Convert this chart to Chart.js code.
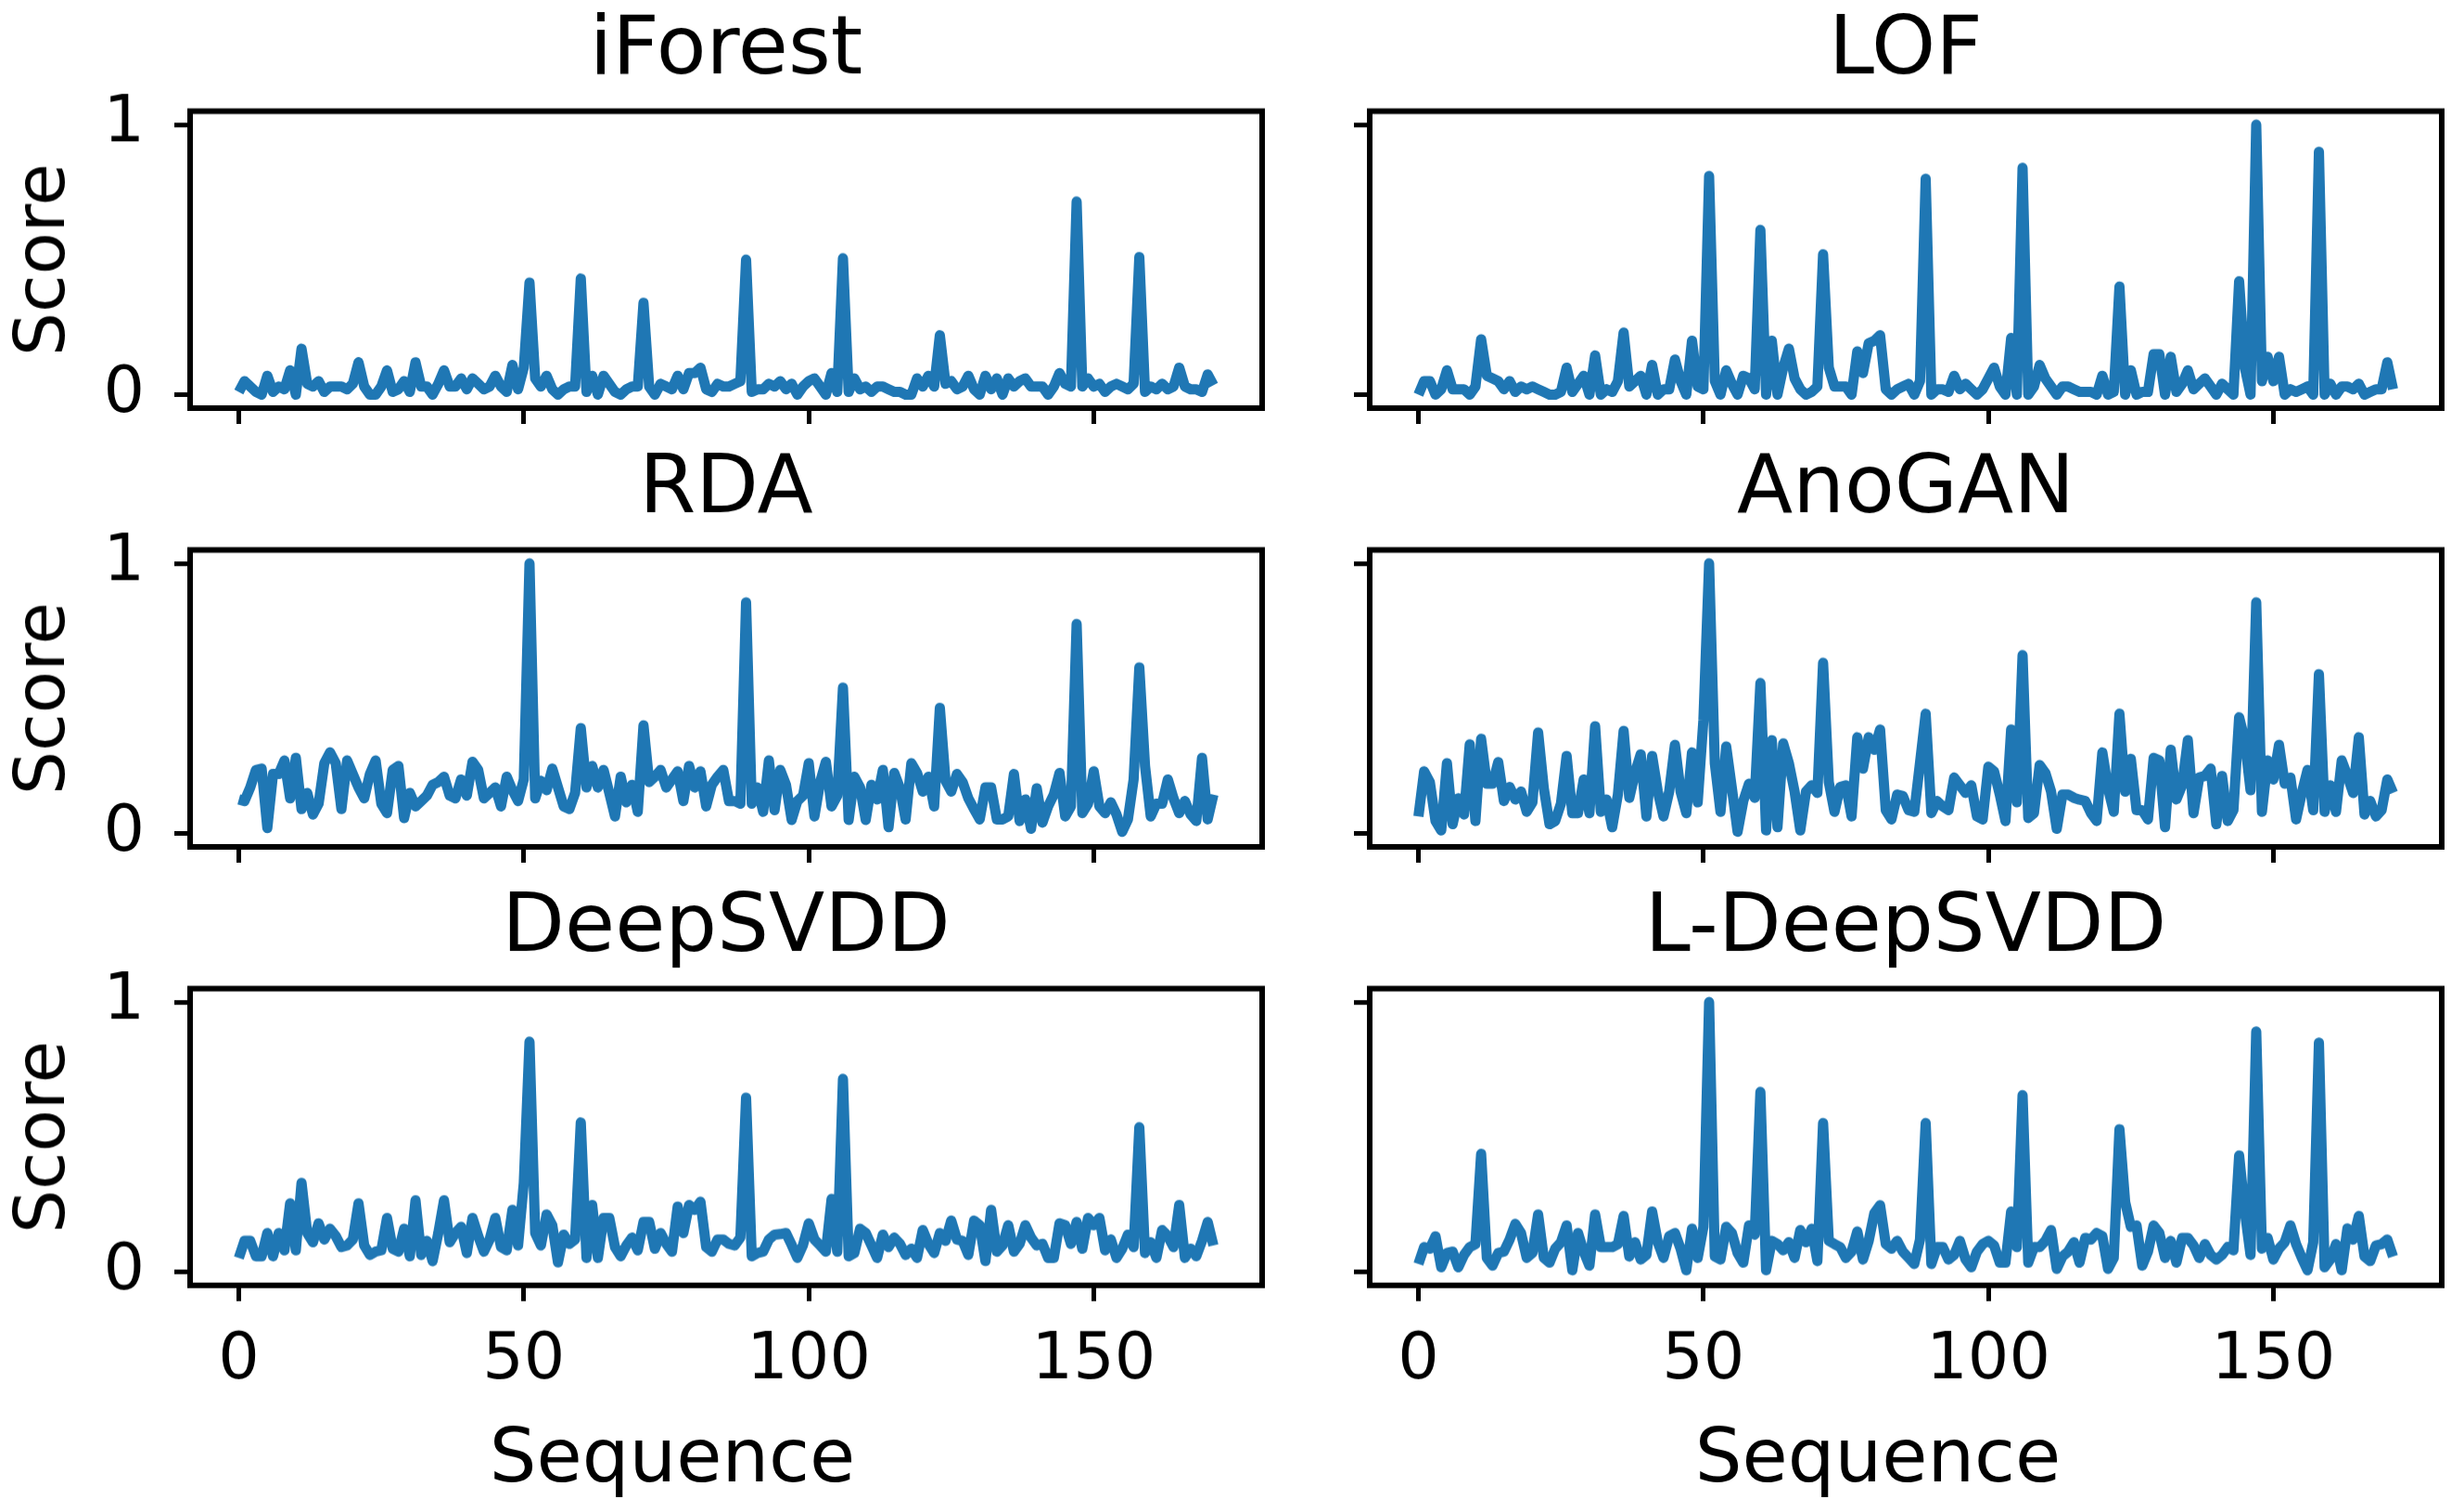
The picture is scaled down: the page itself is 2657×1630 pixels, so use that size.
<!DOCTYPE html>
<html>
<head>
<meta charset="utf-8">
<script src="https://cdn.jsdelivr.net/npm/chart.js@4.4.1/dist/chart.umd.min.js"></script>
<style>
  body { margin: 0; background: #fff; }
  #page { position: relative; width: 2657px; height: 1630px; background: #fff; overflow: hidden; }
  #page canvas { position: absolute; }
</style>
</head>
<body>
<div id="page"></div>
<script>
// anomaly scores per sequence index (0..171)
const methods = ['iForest', 'LOF', 'RDA', 'AnoGAN', 'DeepSVDD', 'L-DeepSVDD']

const iforest = [
  0.01,0.05,0.03,0.01,0.0,0.07,0.01,0.03,0.02,0.09,
  0.0,0.17,0.04,0.03,0.05,0.01,0.03,0.03,0.03,0.02,
  0.04,0.12,0.03,0.0,0.0,0.03,0.09,0.01,0.02,0.05,
  0.01,0.12,0.03,0.03,0.0,0.04,0.09,0.03,0.03,0.06,
  0.02,0.06,0.04,0.02,0.03,0.07,0.03,0.01,0.11,0.02,
  0.1,0.415,0.06,0.03,0.07,0.02,0.0,0.02,0.03,0.03,
  0.43,0.01,0.07,0.0,0.07,0.04,0.01,0.0,0.02,0.03,
  0.03,0.34,0.03,0.0,0.04,0.03,0.02,0.07,0.02,0.08,
  0.08,0.1,0.02,0.01,0.04,0.03,0.03,0.04,0.05,0.5,
  0.01,0.02,0.02,0.04,0.03,0.05,0.02,0.04,0.0,0.03,
  0.05,0.06,0.03,0.0,0.08,0.01,0.505,0.01,0.06,0.02,
  0.03,0.01,0.03,0.03,0.02,0.01,0.01,0.0,0.0,0.06,
  0.03,0.07,0.03,0.22,0.04,0.05,0.02,0.03,0.07,0.02,
  0.0,0.07,0.02,0.06,0.0,0.06,0.03,0.05,0.06,0.03,
  0.03,0.03,0.0,0.03,0.08,0.04,0.03,0.715,0.03,0.06,
  0.03,0.04,0.01,0.03,0.04,0.03,0.02,0.04,0.51,0.01,
  0.03,0.02,0.04,0.02,0.03,0.1,0.03,0.02,0.02,0.01,
  0.075,0.035
]

const lof = [
  0.0,0.05,0.05,0.0,0.02,0.09,0.02,0.02,0.02,0.0,
  0.03,0.205,0.07,0.06,0.05,0.02,0.05,0.01,0.03,0.02,
  0.03,0.02,0.01,0.0,0.0,0.01,0.1,0.01,0.04,0.07,
  0.0,0.145,0.0,0.02,0.01,0.05,0.23,0.03,0.05,0.07,
  0.0,0.11,0.0,0.02,0.02,0.13,0.05,0.0,0.2,0.03,
  0.02,0.81,0.05,0.0,0.09,0.04,0.0,0.07,0.06,0.02,
  0.61,0.0,0.2,0.0,0.1,0.17,0.06,0.02,0.0,0.01,
  0.03,0.52,0.1,0.03,0.03,0.03,0.0,0.16,0.08,0.19,
  0.2,0.22,0.02,0.0,0.02,0.03,0.04,0.0,0.05,0.8,
  0.0,0.02,0.02,0.01,0.07,0.02,0.04,0.02,0.0,0.02,
  0.06,0.1,0.03,0.0,0.21,0.0,0.84,0.0,0.03,0.11,
  0.06,0.03,0.0,0.03,0.03,0.02,0.01,0.01,0.01,0.0,
  0.07,0.0,0.01,0.4,0.0,0.09,0.0,0.01,0.01,0.15,
  0.15,0.0,0.14,0.01,0.04,0.09,0.02,0.04,0.06,0.03,
  0.0,0.04,0.02,0.0,0.42,0.1,0.0,1.0,0.05,0.14,
  0.05,0.14,0.0,0.02,0.01,0.02,0.03,0.0,0.9,0.0,
  0.04,0.0,0.03,0.03,0.02,0.04,0.0,0.01,0.02,0.02,
  0.12,0.02
]

const rda = [
  0.126,0.12,0.17,0.235,0.24,0.02,0.22,0.22,0.27,0.13,
  0.28,0.09,0.15,0.07,0.11,0.26,0.30,0.26,0.09,0.27,
  0.22,0.17,0.13,0.22,0.27,0.11,0.075,0.235,0.25,0.057,
  0.15,0.1,0.12,0.14,0.18,0.19,0.21,0.14,0.13,0.2,
  0.14,0.265,0.235,0.13,0.15,0.17,0.1,0.21,0.16,0.12,
  0.2,1.0,0.13,0.195,0.16,0.24,0.17,0.1,0.09,0.15,
  0.39,0.17,0.25,0.17,0.235,0.15,0.063,0.21,0.115,0.18,
  0.08,0.40,0.19,0.21,0.235,0.17,0.2,0.23,0.12,0.25,
  0.17,0.23,0.1,0.18,0.21,0.235,0.12,0.12,0.11,0.856,
  0.11,0.17,0.08,0.27,0.086,0.235,0.18,0.05,0.12,0.14,
  0.26,0.063,0.19,0.265,0.1,0.14,0.54,0.05,0.21,0.17,
  0.05,0.18,0.126,0.235,0.023,0.224,0.167,0.052,0.26,0.224,
  0.155,0.21,0.1,0.465,0.195,0.155,0.22,0.19,0.13,0.09,
  0.052,0.17,0.17,0.052,0.052,0.063,0.22,0.046,0.126,0.017,
  0.167,0.04,0.1,0.144,0.224,0.063,0.1,0.776,0.075,0.11,
  0.23,0.1,0.075,0.115,0.07,0.006,0.052,0.2,0.615,0.25,
  0.063,0.11,0.11,0.2,0.13,0.075,0.12,0.07,0.046,0.28,
  0.052,0.144
]

const anogan = [
  0.063,0.23,0.19,0.046,0.011,0.26,0.034,0.13,0.07,0.33,
  0.046,0.35,0.184,0.184,0.264,0.12,0.172,0.126,0.155,0.08,
  0.115,0.374,0.167,0.034,0.046,0.11,0.287,0.075,0.075,0.2,
  0.075,0.397,0.08,0.126,0.023,0.144,0.38,0.132,0.224,0.293,
  0.063,0.287,0.155,0.063,0.155,0.328,0.155,0.075,0.3,0.115,
  0.42,1.0,0.26,0.08,0.322,0.167,0.006,0.12,0.184,0.132,
  0.557,0.011,0.345,0.023,0.333,0.26,0.155,0.011,0.155,0.178,
  0.15,0.632,0.19,0.08,0.172,0.178,0.063,0.356,0.24,0.356,
  0.31,0.385,0.086,0.052,0.144,0.138,0.086,0.08,0.26,0.443,
  0.075,0.12,0.1,0.086,0.207,0.178,0.15,0.178,0.063,0.052,
  0.247,0.23,0.144,0.046,0.385,0.115,0.66,0.057,0.075,0.253,
  0.224,0.155,0.017,0.144,0.144,0.132,0.125,0.12,0.075,0.046,
  0.3,0.167,0.08,0.443,0.155,0.276,0.086,0.086,0.052,0.28,
  0.27,0.023,0.31,0.126,0.178,0.345,0.075,0.207,0.213,0.24,
  0.034,0.213,0.046,0.086,0.43,0.345,0.16,0.856,0.08,0.27,
  0.2,0.328,0.184,0.207,0.052,0.15,0.235,0.086,0.59,0.08,
  0.178,0.08,0.27,0.213,0.15,0.356,0.07,0.12,0.063,0.086,
  0.2,0.15
]

const deepsvdd = [
  0.052,0.115,0.115,0.058,0.058,0.144,0.058,0.144,0.08,0.254,
  0.08,0.33,0.144,0.11,0.18,0.12,0.16,0.133,0.092,0.098,
  0.12,0.254,0.098,0.063,0.075,0.08,0.2,0.086,0.075,0.16,
  0.058,0.265,0.063,0.115,0.04,0.144,0.265,0.11,0.144,0.167,
  0.07,0.2,0.133,0.075,0.12,0.2,0.092,0.08,0.23,0.098,
  0.33,0.853,0.144,0.098,0.213,0.173,0.035,0.138,0.104,0.12,
  0.554,0.052,0.248,0.052,0.2,0.2,0.092,0.058,0.098,0.127,
  0.08,0.185,0.185,0.086,0.144,0.104,0.075,0.242,0.144,0.248,
  0.23,0.26,0.092,0.075,0.12,0.12,0.104,0.098,0.127,0.646,
  0.058,0.07,0.075,0.12,0.138,0.14,0.144,0.1,0.052,0.1,
  0.18,0.12,0.098,0.075,0.27,0.075,0.715,0.058,0.07,0.16,
  0.144,0.098,0.052,0.138,0.092,0.127,0.104,0.063,0.086,0.052,
  0.155,0.104,0.07,0.144,0.115,0.19,0.12,0.115,0.063,0.19,
  0.173,0.04,0.23,0.075,0.098,0.173,0.075,0.104,0.173,0.127,
  0.098,0.104,0.052,0.052,0.18,0.173,0.104,0.185,0.086,0.2,
  0.173,0.2,0.08,0.12,0.052,0.086,0.138,0.092,0.536,0.07,
  0.11,0.052,0.155,0.133,0.092,0.248,0.052,0.086,0.058,0.115,
  0.185,0.098
]

const ldeepsvdd = [
  0.029,0.092,0.086,0.132,0.017,0.07,0.075,0.017,0.063,0.092,
  0.103,0.437,0.052,0.023,0.07,0.075,0.12,0.178,0.144,0.052,
  0.07,0.213,0.052,0.034,0.086,0.11,0.172,0.006,0.144,0.075,
  0.023,0.213,0.092,0.092,0.092,0.103,0.207,0.057,0.11,0.046,
  0.063,0.224,0.11,0.052,0.132,0.144,0.086,0.006,0.16,0.052,
  0.167,1.0,0.057,0.046,0.167,0.144,0.07,0.034,0.172,0.138,
  0.667,0.006,0.115,0.103,0.08,0.11,0.052,0.155,0.11,0.16,
  0.04,0.552,0.115,0.103,0.092,0.052,0.075,0.15,0.046,0.115,
  0.218,0.247,0.103,0.086,0.115,0.075,0.052,0.029,0.12,0.552,
  0.029,0.092,0.092,0.046,0.063,0.115,0.046,0.017,0.075,0.103,
  0.115,0.098,0.034,0.034,0.224,0.092,0.655,0.034,0.092,0.092,
  0.115,0.155,0.011,0.057,0.075,0.11,0.034,0.126,0.12,0.144,
  0.132,0.011,0.052,0.529,0.259,0.167,0.172,0.023,0.075,0.172,
  0.144,0.052,0.115,0.034,0.126,0.126,0.098,0.052,0.103,0.063,
  0.046,0.063,0.092,0.08,0.431,0.224,0.063,0.891,0.086,0.126,
  0.046,0.086,0.11,0.172,0.103,0.052,0.006,0.11,0.85,0.017,
  0.046,0.103,0.006,0.161,0.12,0.207,0.057,0.04,0.098,0.103,
  0.12,0.057
]

const scores = [iforest, lof, rda, anogan, deepsvdd, ldeepsvdd]
const xTicks = [0, 50, 100, 150]
const yTicks = [0, 1]

// layout, in page pixels
const fontFamily = 'DejaVu Sans'
const plotW = 1156, plotH = 320
const colLeft = [205, 1477]
const rowTop = [120, 593, 1066]
const titleSize = 88, titlePad = 11
const titleH = titleSize * 1.2 + titlePad
const padRight = 12
const xLabelShift = [-58, -30]

// full box around the plot area, like matplotlib spines
const frame = {
  id: 'frame',
  afterDatasetsDraw(chart) {
    const a = chart.chartArea
    const ctx = chart.ctx
    ctx.save()
    ctx.strokeStyle = '#000'
    ctx.lineWidth = 6
    ctx.strokeRect(a.left, a.top, a.right - a.left, a.bottom - a.top)
    ctx.restore()
  }
}

// x label sits a little left of the axes centre in the original
const xLabel = {
  id: 'xLabel',
  afterDraw(chart, args, opts) {
    if (!opts.text) return
    const a = chart.chartArea
    const ctx = chart.ctx
    ctx.save()
    ctx.font = opts.size + 'px "' + fontFamily + '"'
    ctx.fillStyle = '#000'
    ctx.textAlign = 'center'
    ctx.textBaseline = 'middle'
    ctx.fillText(opts.text, (a.left + a.right) / 2 + opts.shift, a.bottom + opts.offset)
    ctx.restore()
  }
}

const page = document.getElementById('page')

methods.forEach(function (name, k) {
  var row = Math.floor(k / 2)
  var col = k % 2
  var firstCol = col == 0
  var lastRow = row == 2

  var yAxisW = firstCol ? 205 : 40
  var xAxisH = lastRow ? 244 : 30

  var canvas = document.createElement('canvas')
  var w = yAxisW + plotW + padRight
  var h = titleH + plotH + xAxisH
  canvas.width = w
  canvas.height = h
  canvas.style.width = w + 'px'
  canvas.style.height = h + 'px'
  canvas.style.left = (colLeft[col] - yAxisW) + 'px'
  canvas.style.top = (rowTop[row] - titleH) + 'px'
  page.appendChild(canvas)

  var points = scores[k].map(function (v, i) { return { x: i, y: v } })

  new Chart(canvas, {
    type: 'line',
    data: {
      datasets: [{
        data: points,
        borderColor: '#1f77b4',
        borderWidth: 11,
        pointRadius: 0,
        tension: 0,
        borderJoinStyle: 'round',
        borderCapStyle: 'butt'
      }]
    },
    options: {
      responsive: false,
      animation: false,
      events: [],
      layout: { padding: { left: 0, right: padRight, top: 0, bottom: 0 } },
      plugins: {
        legend: { display: false },
        tooltip: { enabled: false },
        title: {
          display: true,
          text: name,
          fullSize: false,
          color: '#000',
          font: { family: fontFamily, size: titleSize, weight: 'normal', lineHeight: 1.2 },
          padding: { top: 0, bottom: titlePad }
        },
        xLabel: { text: lastRow ? 'Sequence' : '', size: 80, shift: xLabelShift[col], offset: 190 }
      },
      scales: {
        x: {
          type: 'linear',
          min: -8.55,
          max: 179.55,
          afterBuildTicks: function (s) { s.ticks = xTicks.map(function (v) { return { value: v } }) },
          afterFit: function (s) { s.height = xAxisH; s.paddingLeft = 0; s.paddingRight = 0 },
          ticks: { display: lastRow, color: '#000', padding: 23, maxRotation: 0,
                   font: { family: fontFamily, size: 70 } },
          grid: { drawOnChartArea: false, drawTicks: true, tickLength: 17, lineWidth: 5, color: '#000' },
          border: { display: false }
        },
        y: {
          min: -0.05,
          max: 1.05,
          afterBuildTicks: function (s) { s.ticks = yTicks.map(function (v) { return { value: v } }) },
          afterFit: function (s) { s.width = yAxisW; s.paddingTop = 0; s.paddingBottom = 0 },
          ticks: { display: firstCol, color: '#000', padding: 32,
                   font: { family: fontFamily, size: 70 } },
          grid: { drawOnChartArea: false, drawTicks: true, tickLength: 17, lineWidth: 5, color: '#000' },
          border: { display: false },
          title: { display: firstCol, text: 'Score', color: '#000',
                   font: { family: fontFamily, size: 74 }, padding: { top: 5, bottom: 0 } }
        }
      }
    },
    plugins: [frame, xLabel]
  })
})
</script>
</body>
</html>
